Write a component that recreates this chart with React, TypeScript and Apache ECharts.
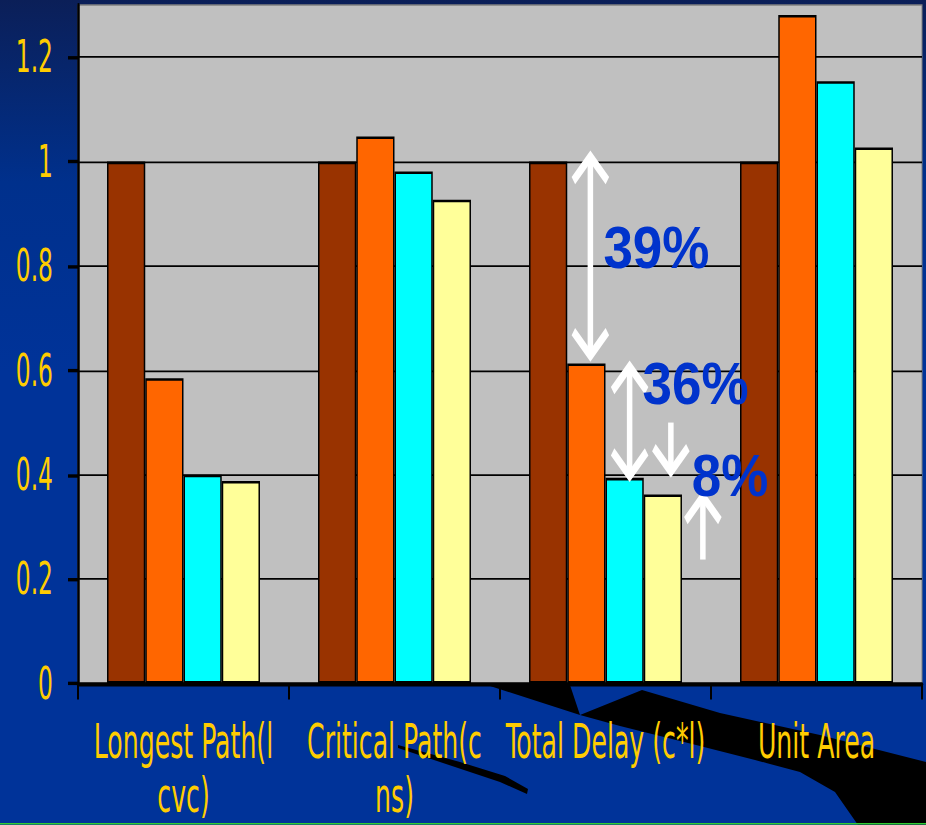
import React, { useEffect, useRef } from "react";
import * as echarts from "echarts";

// ---- data ----
const categories = ["Longest Path(l\ncvc)", "Critical Path(c\nns)", "Total Delay (c*l)", "Unit Area"];
const seriesBase = [1, 1, 1, 1];
const seriesB = [0.585, 1.048, 0.613, 1.281];
const seriesC = [0.4, 0.981, 0.394, 1.154];
const seriesD = [0.388, 0.927, 0.362, 1.027];
const yTicks = [0, 0.2, 0.4, 0.6, 0.8, 1, 1.2];
const annotationLabels = ["39%", "36%", "8%"];

const COLORS = ["#993300", "#FF6600", "#00FFFF", "#FFFF99"];
const W = 926;
const H = 825;
const K = 1.7; // vertical stretch of the whole slide picture
const CH = H / K;
const NARROW = '"DejaVu Sans Condensed", "Liberation Sans Narrow", sans-serif';
const GAP = 0.275;

// decorative slide shapes (image pixel coords)
const blackBand = [
  [487, 685], [570, 685], [580, 715], [642, 690], [720, 713], [820, 735], [926, 762],
  [926, 825], [858, 825], [835, 792], [800, 772], [755, 760], [700, 746], [620, 726], [580, 715],
];
const blackSliver = [
  [398, 745], [460, 762], [505, 776], [528, 789], [527, 794], [500, 782], [455, 767], [398, 748],
];

const toChart = (pts: number[][]) => pts.map(([x, y]) => [x, y / K]);

export default function App() {
  const ref = useRef<HTMLDivElement>(null);

  useEffect(() => {
    if (!ref.current) return;
    const chart = echarts.init(ref.current, null, { renderer: "svg" });
    const mkSeries = (name: string, data: number[], color: string) => ({
      name,
      type: "bar",
      data,
      barGap: "0%",
      barCategoryGap: GAP * 100 + "%",
      itemStyle: { color, borderColor: "#000", borderWidth: 1.5 },
      z: 3,
    });
    const plotTop = 5 / K;
    const plotBottom = 684 / K;
    chart.setOption({
      animation: false,
      backgroundColor: "#003399",
      grid: {
        left: 78,
        right: 4,
        top: plotTop,
        bottom: CH - plotBottom,
        containLabel: false,
        outerBoundsMode: "none",
        show: true,
        backgroundColor: "#C0C0C0",
        borderColor: "#808080",
        borderWidth: 1,
      },
      xAxis: {
        type: "category",
        data: categories,
        axisLine: { show: true, lineStyle: { color: "#000", width: 2.5 } },
        axisTick: { show: true, length: 16 / K, lineStyle: { color: "#000", width: 2 } },
        axisLabel: {
          interval: 0,
          color: "#FFCC00",
          fontFamily: NARROW,
          fontSize: 28,
          lineHeight: 32,
          margin: 18,
        },
        splitLine: { show: false },
      },
      yAxis: {
        type: "value",
        min: 0,
        max: 1.3,
        interval: 0.2,
        axisLine: { show: true, lineStyle: { color: "#000", width: 2.5 } },
        axisTick: { show: true, length: 10, customValues: yTicks, lineStyle: { color: "#000", width: 2 } },
        axisLabel: {
          customValues: yTicks,
          color: "#FFCC00",
          fontFamily: NARROW,
          fontSize: 26,
          margin: 25,
        },
        splitLine: { show: true, lineStyle: { color: "#000", width: 1 } },
      },
      series: [
        mkSeries("s1", seriesBase, COLORS[0]),
        mkSeries("s2", seriesB, COLORS[1]),
        mkSeries("s3", seriesC, COLORS[2]),
        mkSeries("s4", seriesD, COLORS[3]),
      ],
    });

    const yPx = (v: number) => chart.convertToPixel({ yAxisIndex: 0 }, v) as number;
    const xPx = (i: number) => chart.convertToPixel({ xAxisIndex: 0 }, i) as number;
    const catW = xPx(1) - xPx(0);
    const bw = (catW * (1 - GAP)) / 4;
    const barX = (i: number, j: number) => xPx(i) - 2 * bw + (j + 0.5) * bw;

    const AW = 17; // arrow head half width
    const AH = 24 / K; // arrow head height
    const arrowStyle = { stroke: "#FFFFFF", lineWidth: 5.5, fill: null, lineJoin: "miter", lineCap: "butt" };
    const shaft = (x: number, y1: number, y2: number) => ({
      type: "line",
      z: 100,
      shape: { x1: x, y1, x2: x, y2 },
      style: arrowStyle,
    });
    const headUp = (x: number, y: number) => ({
      type: "polyline",
      z: 100,
      shape: { points: [[x - AW, y + AH], [x, y], [x + AW, y + AH]] },
      style: arrowStyle,
    });
    const headDown = (x: number, y: number) => ({
      type: "polyline",
      z: 100,
      shape: { points: [[x - AW, y - AH], [x, y], [x + AW, y - AH]] },
      style: arrowStyle,
    });

    const ci = 2; // Total Delay category
    const a1x = barX(ci, 1) + 4;
    const a1t = yPx(seriesBase[ci]) - 5 / K;
    const a1b = yPx(seriesB[ci]) - 8 / K;
    const a2x = barX(ci, 2) + 5;
    const a2t = yPx(seriesB[ci]) + 3 / K;
    const a2b = yPx(seriesC[ci]) - 2 / K;
    const a3x = barX(ci, 3) + 8;
    const a3tip = yPx(seriesD[ci]) - 23 / K;
    const a3tail = a3tip - 49 / K;
    const a4x = barX(ci, 3) + 40;
    const a4tip = yPx(seriesD[ci]) + 2 / K;
    const a4tail = a4tip + 63 / K;

    const textStyle = (t: string) => ({
      text: t,
      fill: "#0033CC",
      fontFamily: '"Liberation Sans", Arial, sans-serif',
      fontWeight: "bold",
      fontSize: 53,
      align: "left",
      verticalAlign: "middle",
    });
    const TS = 1.11 / K;
    const texts = [
      { x: barX(ci, 1) + 17, y: (yPx(seriesBase[ci]) + yPx(seriesB[ci])) / 2 - 15 / K },
      { x: barX(ci, 2) + 18, y: (yPx(seriesB[ci]) + yPx(seriesC[ci])) / 2 - 37 / K },
      { x: barX(ci, 3) + 29, y: (yPx(seriesC[ci]) + yPx(seriesD[ci])) / 2 - 11 / K },
    ].map((p, i) => ({
      type: "text",
      z: 101,
      x: p.x,
      y: p.y,
      scaleY: TS,
      style: textStyle(annotationLabels[i]),
    }));

    chart.setOption({
      graphic: {
        elements: [
          {
            type: "rect",
            z: -100,
            shape: { x: 0, y: 0, width: W, height: CH },
            style: {
              fill: new echarts.graphic.LinearGradient(0, 0, 0, 1, [
                { offset: 0, color: "#0b1f58" },
                { offset: 0.22, color: "#00308c" },
                { offset: 0.45, color: "#003399" },
                { offset: 1, color: "#003399" },
              ]),
            },
          },
          { type: "polygon", z: -90, shape: { points: toChart(blackBand) }, style: { fill: "#000000" } },
          { type: "polygon", z: -90, shape: { points: toChart(blackSliver) }, style: { fill: "#000000" } },
          {
            type: "rect",
            z: -80,
            shape: { x: 0, y: 823 / K, width: W, height: 2 / K },
            style: { fill: "#33CC33" },
          },
          shaft(a1x, a1t + 2, a1b - 2),
          headUp(a1x, a1t),
          headDown(a1x, a1b),
          shaft(a2x, a2t + 2, a2b - 2),
          headUp(a2x, a2t),
          headDown(a2x, a2b),
          shaft(a3x, a3tail, a3tip - 2),
          headDown(a3x, a3tip),
          shaft(a4x, a4tip + 2, a4tail),
          headUp(a4x, a4tip),
          ...texts,
        ],
      },
    });

    return () => chart.dispose();
  }, []);

  return (
    <div style={{ position: "absolute", left: 0, top: 0, width: W, height: H, overflow: "hidden", background: "#003399" }}>
      <div
        ref={ref}
        style={{ width: W, height: CH, transform: `scaleY(${K})`, transformOrigin: "0 0" }}
      />
    </div>
  );
}
